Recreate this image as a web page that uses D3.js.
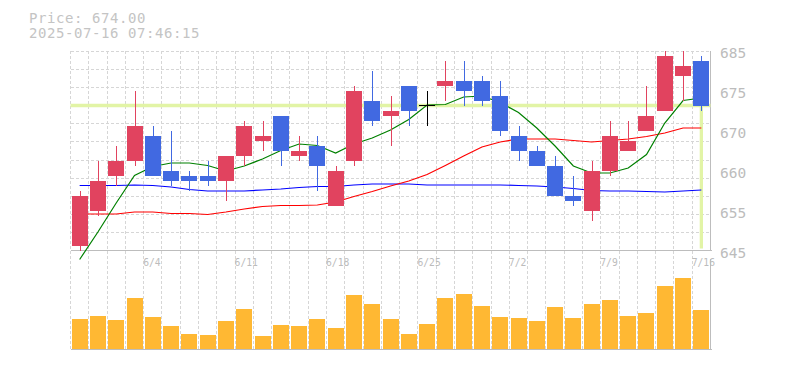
<!DOCTYPE html>
<html>
<head>
<meta charset="utf-8">
<script src="https://cdn.jsdelivr.net/npm/d3@7"></script>
<style>
  html, body { margin: 0; padding: 0; background: #fff; }
  svg { display: block; }
</style>
</head>
<body>
<svg id="chart" width="785" height="370"></svg>
<script>
// ---------------- data ----------------
const dates = ["5/29","5/30","6/2","6/3","6/4","6/5","6/6","6/9","6/10","6/11","6/12","6/13","6/16","6/17","6/18","6/19","6/20","6/23","6/24","6/25","6/26","6/27","6/30","7/1","7/2","7/3","7/4","7/7","7/8","7/9","7/10","7/11","7/14","7/15","7/16"];
const open  = [646,653,660,663,668,661,660,660,659,664,667,672,664,666,654,663,675,672,678,674,678,679,679,676,668,665,662,656,653,661,665,669,673,680,683];
const high  = [657,663,666,677,670,669,661,663,664,671,671,672,668,668,662,678,681,676,678,677,683,683,680,679,670,666,664,660,663,671,671,678,685,685,684];
const low   = [645,652,658,662,660,658,657,658,655,662,665,662,663,657,654,662,670,666,670,670,675,674,674,668,663,662,656,654,651,660,665,669,673,675,673];
const close = [656,659,663,670,660,659,659,659,664,670,668,665,665,662,661,677,671,673,673,674,679,677,675,669,665,662,656,655,661,668,667,672,684,682,674];
const volume = [30000,33000,29000,51000,32000,23000,15000,14000,28000,40000,13000,24000,23000,30000,21000,54000,45000,30000,15000,25000,51000,55000,43000,32000,31000,28000,42000,31000,45000,49000,33000,36000,63000,71000,39000];
const maShort = [643.2,648.7,654.5,660.0,661.8,662.5,662.5,662.0,660.9,661.9,663.3,665.0,666.3,666.0,664.5,666.3,667.5,669.1,671.2,674.1,674.2,675.7,675.9,674.6,672.6,669.5,665.9,661.9,660.5,660.5,661.5,664.2,670.5,675.0,675.5];
const maMid   = [652.3,652.3,652.3,652.7,652.7,652.4,652.4,652.2,652.7,653.3,653.8,654.0,654.0,654.1,654.7,655.8,656.8,657.9,658.9,660.2,662.0,663.9,665.7,666.7,667.3,667.3,667.3,667.0,666.7,667.0,667.3,667.8,668.5,669.5,669.5];
const maLong  = [658.0,658.0,658.0,658.1,658.0,657.7,657.2,656.9,656.9,656.9,657.1,657.3,657.6,657.8,657.8,658.1,658.3,658.3,658.3,658.1,658.1,658.1,658.1,658.1,658.0,657.9,657.7,657.4,657.0,656.9,656.9,656.8,656.7,656.9,657.1];
const xTickLabels = ["6/4","6/11","6/18","6/25","7/2","7/9","7/16"];
const yTickValues = [685,677,669,661,653,645];
const yTickLabels = ["685","675","670","660","655","645"];
const currentPrice = 674.00;
const titleLines = ["Price: 674.00", "2025-07-16 07:46:15"];

// ---------------- layout ----------------
const svg = d3.select("#chart");
const L = 70.5, R = 710.5;
const priceTop = 50.5, priceBottom = 250.5;
const volTop = 263, volBottom = 349;

const x = d3.scaleBand().domain(d3.range(dates.length)).range([L, R]).padding(0);
const bw = x.bandwidth();
const bodyW = 16;
const cx = i => x(i) + bw / 2;

const y = d3.scaleLinear().domain([645, 685]).range([priceBottom, priceTop]);
const yv = d3.scaleLinear().domain([0, 86000]).range([volBottom, volTop]);

const gridColor = "#d6d6d6";
const axisColor = "#bdbdbd";
const textColor = "#bcbcbc";
const upColor = "#e1435f";
const downColor = "#4169e1";

// clip for the price panel
svg.append("defs").append("clipPath").attr("id", "pclip")
  .append("rect").attr("x", L).attr("y", priceTop).attr("width", R - L).attr("height", priceBottom - priceTop + 12);

// ---------------- grid ----------------
const grid = svg.append("g").attr("shape-rendering", "crispEdges");
const vBounds = d3.range(dates.length).map(i => x(i));
grid.selectAll("line.v").data(vBounds).join("line")
  .attr("x1", d => Math.floor(d) + 0.5).attr("x2", d => Math.floor(d) + 0.5)
  .attr("y1", priceTop).attr("y2", volBottom)
  .attr("stroke", gridColor).attr("stroke-dasharray", "3,2");
const hVals = d3.range(11).map(k => 685 - k * 40 / 11);
grid.selectAll("line.h").data(hVals).join("line")
  .attr("x1", L).attr("x2", R)
  .attr("y1", d => Math.round(y(d)) + 0.5).attr("y2", d => Math.round(y(d)) + 0.5)
  .attr("stroke", gridColor).attr("stroke-dasharray", "3,2");

// axis frame lines
const frame = svg.append("g").attr("shape-rendering", "crispEdges").attr("stroke", axisColor);
frame.append("line").attr("x1", L).attr("x2", R + 1).attr("y1", priceBottom).attr("y2", priceBottom);
frame.append("line").attr("x1", R).attr("x2", R).attr("y1", priceTop).attr("y2", priceBottom);
frame.append("line").attr("x1", L).attr("x2", R + 1).attr("y1", volBottom + 0.5).attr("y2", volBottom + 0.5);
frame.append("line").attr("x1", R).attr("x2", R).attr("y1", volTop - 4).attr("y2", volBottom + 0.5);

// ---------------- current price marker ----------------
const marker = svg.append("g").attr("stroke", "#e2f4a6").attr("stroke-width", 3.3);
marker.append("line").attr("x1", L).attr("x2", R).attr("y1", y(currentPrice)).attr("y2", y(currentPrice));
marker.append("line").attr("x1", cx(dates.length - 1)).attr("x2", cx(dates.length - 1))
  .attr("y1", y(currentPrice)).attr("y2", priceBottom - 2);

// ---------------- moving averages ----------------
const maG = svg.append("g").attr("clip-path", "url(#pclip)").attr("fill", "none").attr("stroke-width", 1.2);
const lineGen = arr => d3.line().x((d, i) => cx(i)).y(d => y(d))(arr);
maG.append("path").attr("d", lineGen(maLong)).attr("stroke", "#0000ff");
maG.append("path").attr("d", lineGen(maMid)).attr("stroke", "#ff0000");

// ---------------- candles ----------------
const candles = d3.range(dates.length).map(i => ({
  i, o: open[i], h: high[i], l: low[i], c: close[i]
}));
const colorOf = d => d.c > d.o ? upColor : (d.c < d.o ? downColor : "#000");
const cg = svg.append("g").attr("shape-rendering", "crispEdges");
cg.selectAll("line.wick").data(candles).join("line")
  .attr("x1", d => Math.round(cx(d.i)) + 0.5).attr("x2", d => Math.round(cx(d.i)) + 0.5)
  .attr("y1", d => y(d.h)).attr("y2", d => y(d.l))
  .attr("stroke", colorOf).attr("stroke-width", 1.3);
cg.selectAll("rect.body").data(candles.filter(d => d.o !== d.c)).join("rect")
  .attr("x", d => Math.round(cx(d.i) - bodyW / 2))
  .attr("width", bodyW)
  .attr("y", d => y(Math.max(d.o, d.c)))
  .attr("height", d => Math.abs(y(d.o) - y(d.c)))
  .attr("fill", colorOf);
cg.selectAll("line.doji").data(candles.filter(d => d.o === d.c)).join("line")
  .attr("x1", d => Math.round(cx(d.i) - bodyW / 2)).attr("x2", d => Math.round(cx(d.i) + bodyW / 2))
  .attr("y1", d => y(d.o)).attr("y2", d => y(d.o))
  .attr("stroke", "#000").attr("stroke-width", 1.5);

// short MA drawn on top of candles
maG.append("path").attr("d", lineGen(maShort)).attr("stroke", "#008000");

// ---------------- volume ----------------
svg.append("g").attr("shape-rendering", "crispEdges")
  .selectAll("rect").data(volume).join("rect")
  .attr("x", (d, i) => Math.round(cx(i) - bodyW / 2))
  .attr("width", bodyW)
  .attr("y", d => yv(d))
  .attr("height", d => volBottom - yv(d))
  .attr("fill", "#ffb833");

// ---------------- axes text ----------------
const mono = "'DejaVu Sans Mono', 'Liberation Mono', monospace";
svg.append("g").selectAll("text").data(yTickValues).join("text")
  .attr("x", 720).attr("y", d => y(d) + 7.6)
  .attr("font-family", mono).attr("font-size", 14.5)
  .attr("fill", textColor)
  .text((d, i) => yTickLabels[i]);

svg.append("g").selectAll("text").data(xTickLabels).join("text")
  .attr("x", d => x(dates.indexOf(d)) - 0.5)
  .attr("y", 266)
  .attr("font-family", mono).attr("font-size", 9.7)
  .attr("fill", textColor)
  .text(d => d);

// ---------------- title ----------------
svg.append("g").selectAll("text").data(titleLines).join("text")
  .attr("x", 29).attr("y", (d, i) => 23.3 + i * 14.5)
  .attr("font-family", mono).attr("font-size", 14)
  .attr("letter-spacing", 0.57)
  .attr("fill", "#c4c4c4")
  .text(d => d);
</script>
</body>
</html>
